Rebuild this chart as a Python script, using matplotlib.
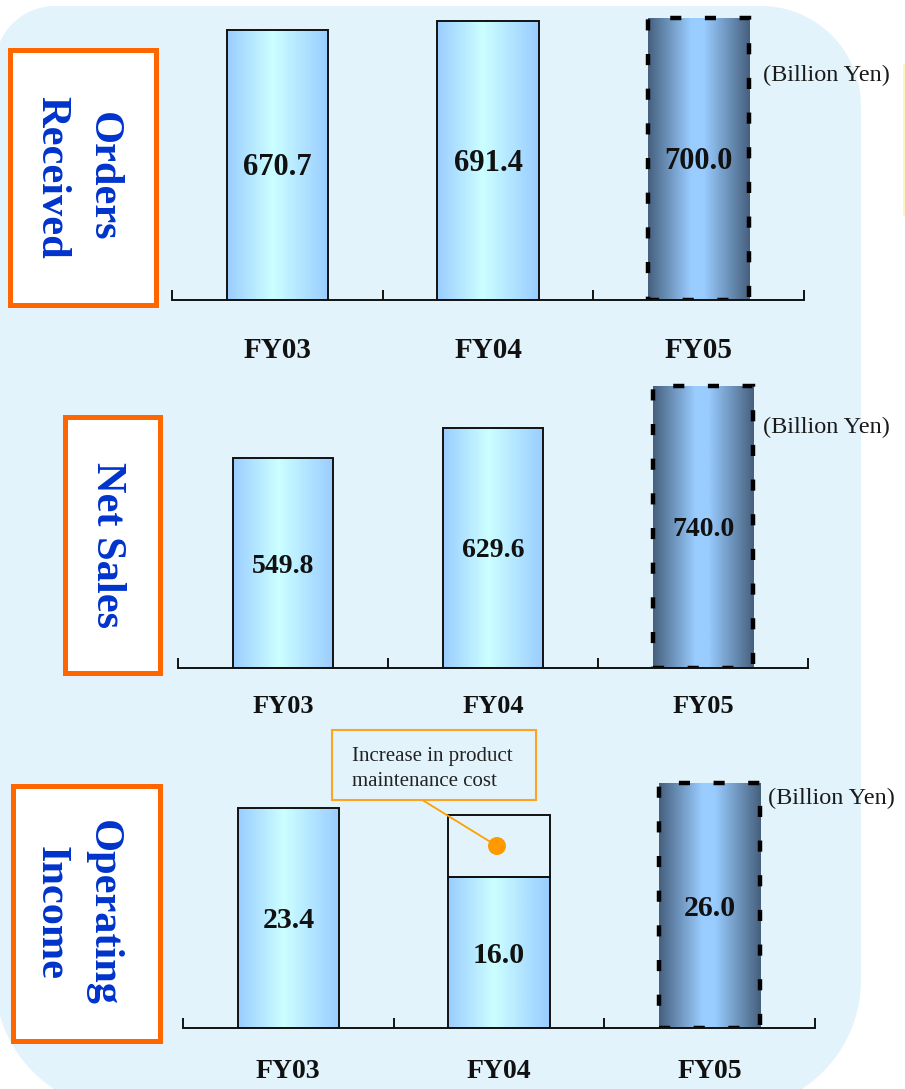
import numpy as np
import matplotlib
matplotlib.use("Agg")
import matplotlib.pyplot as plt
from matplotlib.patches import Rectangle, PathPatch, Circle
from matplotlib.path import Path
from matplotlib.colors import LinearSegmentedColormap
import matplotlib.transforms as mtransforms

# ---------------- data ----------------
categories = ["FY03", "FY04", "FY05"]
orders_received = [670.7, 691.4, 700.0]
net_sales = [549.8, 629.6, 740.0]
operating_income = [23.4, 16.0, 26.0]
op_maintenance_increase = [0.0, 6.6, 0.0]   # estimated height of the open segment on FY04
forecast_flags = [False, False, True]
panel_titles = ["Orders\nReceived", "Net Sales", "Operating\nIncome"]
unit_label = "(Billion Yen)"
callout_lines = ["Increase in product", "maintenance cost"]

# ---------------- style ----------------
plt.rcParams['font.family'] = ['Liberation Serif', 'DejaVu Serif']
W, H = 905, 1089
BG = '#E2F3FC'
ORANGE = '#FF6600'
BLUE_TXT = '#0033CC'

fig = plt.figure(figsize=(W / 100, H / 100), dpi=100)
fig.patch.set_facecolor('white')

# background / overlay axes in pixel coordinates
bg = fig.add_axes([0, 0, 1, 1], zorder=0)
bg.set_xlim(0, W); bg.set_ylim(H, 0); bg.axis('off')
fg = fig.add_axes([0, 0, 1, 1], zorder=10)
fg.set_xlim(0, W); fg.set_ylim(H, 0); fg.axis('off')
fg.patch.set_alpha(0)


def rounded_path(x0, y0, x1, y1, rtl, rtr, rbr, rbl, n=40):
    pts = []
    for (cx, cy, r, a0, a1) in [(x0 + rtl, y0 + rtl, rtl, np.pi, 1.5 * np.pi),
                                (x1 - rtr, y0 + rtr, rtr, 1.5 * np.pi, 2 * np.pi),
                                (x1 - rbr, y1 - rbr, rbr, 0, 0.5 * np.pi),
                                (x0 + rbl, y1 - rbl, rbl, 0.5 * np.pi, np.pi)]:
        t = np.linspace(a0, a1, n)
        pts.extend(zip(cx + r * np.cos(t), cy + r * np.sin(t)))
    pts.append(pts[0])
    codes = [Path.MOVETO] + [Path.LINETO] * (len(pts) - 2) + [Path.CLOSEPOLY]
    return Path(pts, codes)


bg.add_patch(PathPatch(rounded_path(-5, 6, 861, 1110, 60, 100, 130, 130),
                       facecolor=BG, edgecolor='none'))
bg.plot([904, 904], [65, 215], color='#FFF0B8', lw=1.2)

normal_cmap = LinearSegmentedColormap.from_list(
    'nb', [(0.0, '#9ACDFF'), (0.45, '#CCFFFF'), (1.0, '#99CCFF')])
fc_cmap = LinearSegmentedColormap.from_list(
    'fb', [(0.0, '#46607E'), (0.42, '#99CCFF'), (0.55, '#99CCFF'), (1.0, '#46607E')])
grad = np.linspace(0, 1, 256)

panels = [
    dict(values=orders_received, L=172, R=804, B=300, ymax=710, top_px=14,
         vfs=22, cfs=21, cbase=357.5, title_xy=(77, 177),
         box=(9.5, 49.5, 155.5, 304.5), unit_xy=(763, 81)),
    dict(values=net_sales, L=178, R=808, B=668, ymax=760, top_px=378.4,
         vfs=20, cfs=19, cbase=713, title_xy=(107, 545),
         box=(64.5, 416.5, 159.5, 672.5), unit_xy=(763, 432.7)),
    dict(values=operating_income, L=183, R=815, B=1028, ymax=28, top_px=764.2,
         vfs=21.5, cfs=20, cbase=1078, title_xy=(77, 913),
         box=(12.5, 785.5, 159.5, 1040.5), unit_xy=(768, 804)),
]

bar_w = 0.48
x = np.arange(len(categories))

for pi, p in enumerate(panels):
    ax = fig.add_axes([p['L'] / W, 1 - p['B'] / H, (p['R'] - p['L']) / W,
                       (p['B'] - p['top_px']) / H], zorder=5)
    ax.patch.set_alpha(0)
    bars = ax.bar(x, p['values'], width=bar_w, facecolor='none',
                  edgecolor='#111111', linewidth=1.4, zorder=2)
    for i, (b, v) in enumerate(zip(bars, p['values'])):
        cmap = fc_cmap if forecast_flags[i] else normal_cmap
        img = cmap(grad)[np.newaxis, :, :]
        im = ax.imshow(img, extent=(i - bar_w / 2, i + bar_w / 2, 0, v),
                       aspect='auto', origin='lower', interpolation='bilinear',
                       zorder=1)
        im.set_clip_path(b)
        if forecast_flags[i]:
            b.set_edgecolor('black')
            b.set_linewidth(3.2)
            b.set_linestyle((0, (2.5, 5.3)))
        ax.annotate(f"{v:.1f}", xy=(i, v / 2), xytext=(0, -0.338 * p['vfs']),
                    textcoords='offset points', ha='center', va='baseline',
                    fontsize=p['vfs'], fontweight='bold', color='#111111', zorder=4)
    if pi == 2:
        ax.bar(x, op_maintenance_increase, width=bar_w, bottom=operating_income,
               facecolor='none', edgecolor=['none' if h == 0 else '#111111'
                                            for h in op_maintenance_increase],
               linewidth=1.4, zorder=2)
    ax.set_xlim(-0.5, len(categories) - 0.5)
    ax.set_ylim(0, p['ymax'])
    for s in ['left', 'right', 'top']:
        ax.spines[s].set_visible(False)
    ax.spines['bottom'].set_linewidth(1.4)
    ax.spines['bottom'].set_color('#111111')
    ax.set_yticks([])
    ax.set_xticks(np.arange(-0.5, len(categories), 1.0))
    ax.tick_params(axis='x', direction='in', length=7.2, width=1.4,
                   color='#111111', labelbottom=False)

    # category labels
    tr = mtransforms.blended_transform_factory(ax.transData, fg.transData)
    for i, c in enumerate(categories):
        fg.text(i, p['cbase'], c, transform=tr, ha='center', va='baseline',
                fontsize=p['cfs'], fontweight='bold', color='#111111')

    # title box
    bx0, by0, bx1, by1 = p['box']
    fg.add_patch(Rectangle((bx0, by0), bx1 - bx0, by1 - by0, facecolor='white',
                           edgecolor=ORANGE, linewidth=3.6, zorder=2))
    fg.text(p['title_xy'][0], p['title_xy'][1], panel_titles[pi], rotation=-90,
            ha='center', va='center', multialignment='center', linespacing=1.5,
            fontsize=30.5, fontweight='bold', color=BLUE_TXT, zorder=3)

    # unit label
    fg.text(p['unit_xy'][0], p['unit_xy'][1], unit_label, ha='left',
            va='baseline', fontsize=17.5, color='#1a1a1a')

# callout
fg.add_patch(Rectangle((332, 730), 204, 70, facecolor='none',
                       edgecolor='#FFA420', linewidth=1.5, zorder=3))
fg.text(352, 760.7, callout_lines[0], ha='left', va='baseline', fontsize=15,
        color='#222222')
fg.text(352, 785.7, callout_lines[1], ha='left', va='baseline', fontsize=15,
        color='#222222')
fg.plot([424, 497], [801, 846], color='#FFA000', lw=1.3, zorder=3)
fg.add_patch(Circle((497, 846), 9, facecolor='#FF9900', edgecolor='none', zorder=4))

fig.savefig('out.png', dpi=100, facecolor='white')
